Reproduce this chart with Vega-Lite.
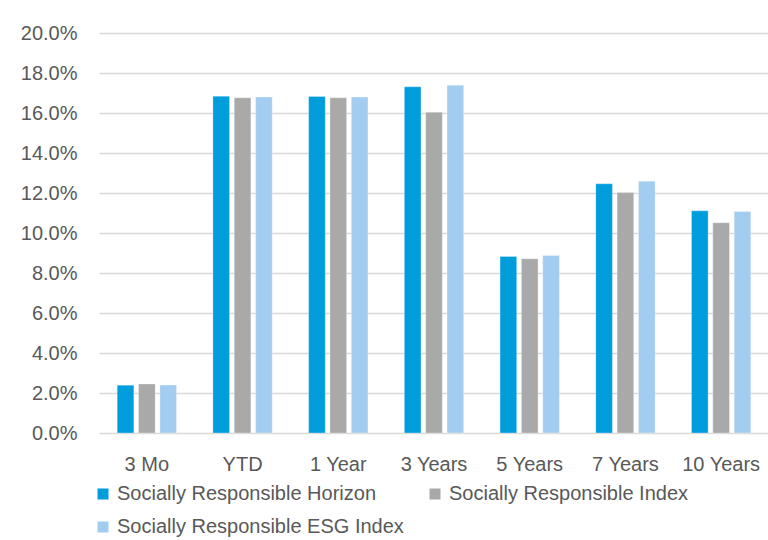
{
  "$schema": "https://vega.github.io/schema/vega-lite/v6.json",
  "autosize": "none",
  "width": 670,
  "height": 400,
  "padding": {"left": 99, "top": 33, "right": 0, "bottom": 107},
  "background": "white",
  "data": {
    "values": [
      {"period": "3 Mo", "series": "Socially Responsible Horizon", "value": 0.0239},
      {"period": "3 Mo", "series": "Socially Responsible Index", "value": 0.0245},
      {"period": "3 Mo", "series": "Socially Responsible ESG Index", "value": 0.0240},
      {"period": "YTD", "series": "Socially Responsible Horizon", "value": 0.1684},
      {"period": "YTD", "series": "Socially Responsible Index", "value": 0.1676},
      {"period": "YTD", "series": "Socially Responsible ESG Index", "value": 0.1680},
      {"period": "1 Year", "series": "Socially Responsible Horizon", "value": 0.1683},
      {"period": "1 Year", "series": "Socially Responsible Index", "value": 0.1676},
      {"period": "1 Year", "series": "Socially Responsible ESG Index", "value": 0.1680},
      {"period": "3 Years", "series": "Socially Responsible Horizon", "value": 0.1731},
      {"period": "3 Years", "series": "Socially Responsible Index", "value": 0.1604},
      {"period": "3 Years", "series": "Socially Responsible ESG Index", "value": 0.1739},
      {"period": "5 Years", "series": "Socially Responsible Horizon", "value": 0.0883},
      {"period": "5 Years", "series": "Socially Responsible Index", "value": 0.0871},
      {"period": "5 Years", "series": "Socially Responsible ESG Index", "value": 0.0888},
      {"period": "7 Years", "series": "Socially Responsible Horizon", "value": 0.1246},
      {"period": "7 Years", "series": "Socially Responsible Index", "value": 0.1202},
      {"period": "7 Years", "series": "Socially Responsible ESG Index", "value": 0.1259},
      {"period": "10 Years", "series": "Socially Responsible Horizon", "value": 0.1111},
      {"period": "10 Years", "series": "Socially Responsible Index", "value": 0.1051},
      {"period": "10 Years", "series": "Socially Responsible ESG Index", "value": 0.1107}
    ]
  },
  "mark": {"type": "bar", "stroke": "white", "strokeOpacity": 0.5, "strokeWidth": 0.6},
  "encoding": {
    "x": {
      "field": "period",
      "type": "nominal",
      "sort": ["3 Mo", "YTD", "1 Year", "3 Years", "5 Years", "7 Years", "10 Years"],
      "scale": {"paddingInner": 0.38, "paddingOuter": 0.19},
      "axis": {
        "title": null,
        "labelAngle": 0,
        "domain": false,
        "ticks": false,
        "labelPadding": 21,
        "labelFontSize": 20,
        "labelFont": "Liberation Sans",
        "labelColor": "#595959"
      }
    },
    "xOffset": {
      "field": "series",
      "type": "nominal",
      "sort": ["Socially Responsible Horizon", "Socially Responsible Index", "Socially Responsible ESG Index"],
      "scale": {"paddingInner": 0.22, "paddingOuter": 0}
    },
    "y": {
      "field": "value",
      "type": "quantitative",
      "scale": {"domain": [0, 0.2], "nice": false},
      "axis": {
        "title": null,
        "format": ".1%",
        "values": [0, 0.02, 0.04, 0.06, 0.08, 0.1, 0.12, 0.14, 0.16, 0.18, 0.2],
        "domain": false,
        "ticks": false,
        "labelPadding": 22,
        "labelFontSize": 20,
        "labelFont": "Liberation Sans",
        "labelColor": "#595959",
        "gridColor": "#d9d9d9",
        "gridWidth": 1.3
      }
    },
    "color": {
      "field": "series",
      "type": "nominal",
      "sort": ["Socially Responsible Horizon", "Socially Responsible Index", "Socially Responsible ESG Index"],
      "scale": {
        "domain": ["Socially Responsible Horizon", "Socially Responsible Index", "Socially Responsible ESG Index"],
        "range": ["#009ddd", "#a9a9a9", "#a3cdf0"]
      },
      "legend": {
        "title": null,
        "orient": "none",
        "legendX": -6,
        "legendY": 451,
        "direction": "horizontal",
        "columns": 2,
        "columnPadding": 21,
        "rowPadding": 13,
        "symbolType": "square",
        "symbolSize": 121,
        "symbolStrokeWidth": 0,
        "symbolOffset": 0,
        "labelOffset": 4,
        "labelFontSize": 20,
        "labelFont": "Liberation Sans",
        "labelColor": "#595959",
        "labelLimit": 400
      }
    }
  },
  "config": {"view": {"stroke": null}}
}
